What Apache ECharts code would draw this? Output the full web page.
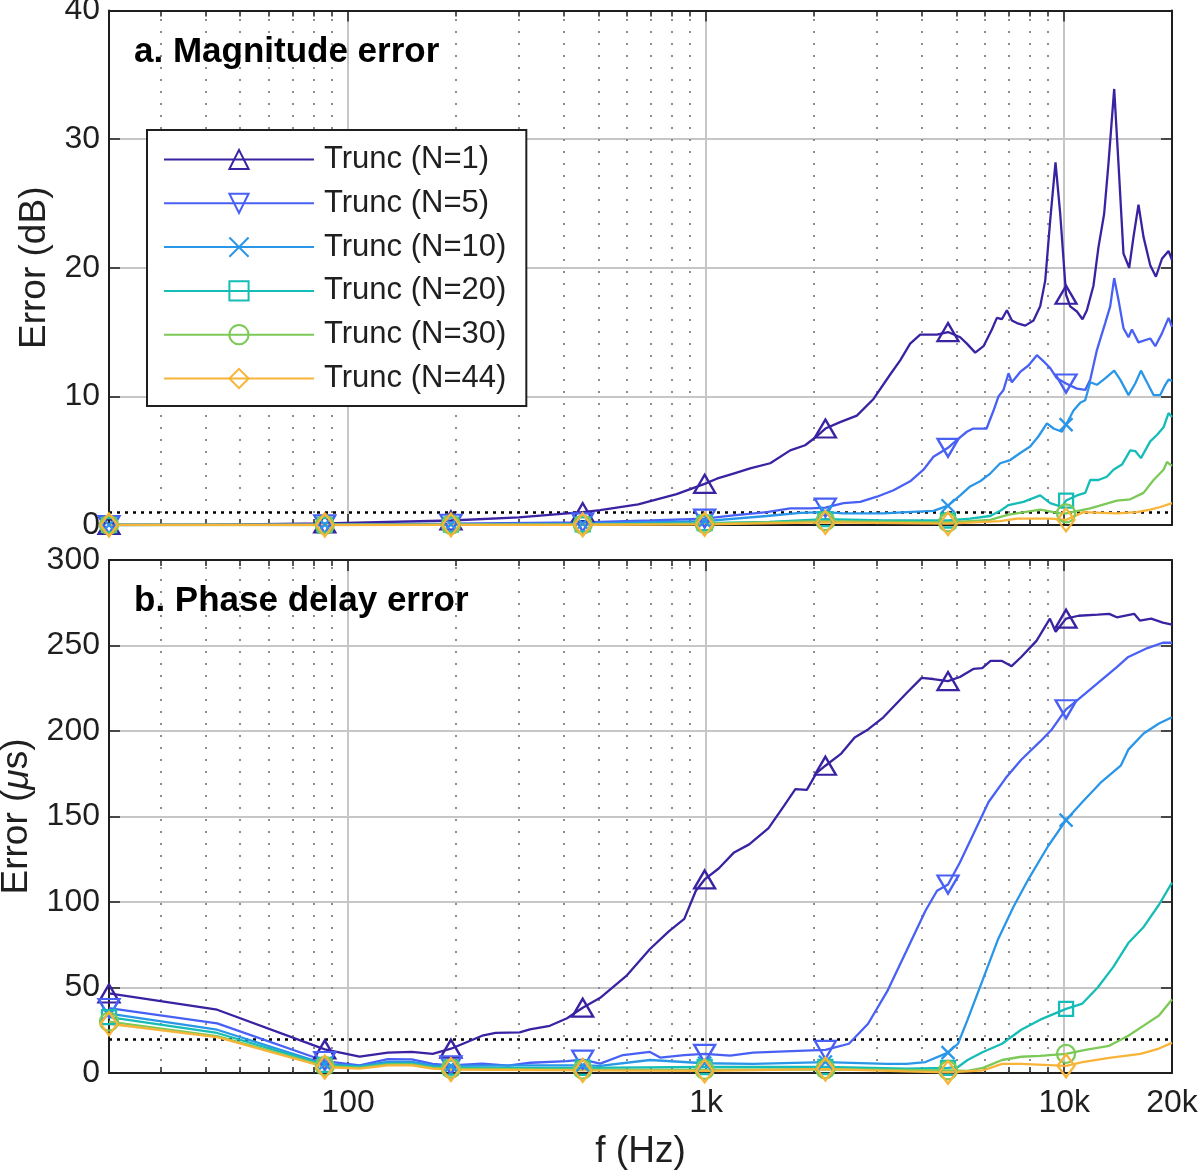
<!DOCTYPE html>
<html>
<head>
<meta charset="utf-8">
<title>Truncation error</title>
<script src="https://cdn.jsdelivr.net/npm/echarts@6/dist/echarts.min.js"></script>
<style>
html, body { margin: 0; padding: 0; background: #fff; }
#chart { width: 1200px; height: 1172px; }
</style>
</head>
<body>
<div id="chart"></div>
<script>
// ---- data ----
const seriesNames = ['Trunc (N=1)', 'Trunc (N=5)', 'Trunc (N=10)', 'Trunc (N=20)', 'Trunc (N=30)', 'Trunc (N=44)'];
const seriesColors = ['#3a22a2', '#4860f4', '#2a96e8', '#16bcb6', '#7cc957', '#f8b438'];

const freqMin = 21.5;
const freqMax = 20000;
const freqTicks = [100, 1000, 10000, 20000];
const freqTickLabels = ['100', '1k', '10k', '20k'];
const minorFreqs = [30, 40, 50, 60, 70, 80, 90, 200, 300, 400, 500, 600, 700, 800, 900,
  2000, 3000, 4000, 5000, 6000, 7000, 8000, 9000];
const markerFreqs = [21.5, 86.1, 193.8, 452.2, 990.5, 2153, 4737, 10120];

const magTicks = [0, 10, 20, 30, 40];
const phaseTicks = [0, 50, 100, 150, 200, 250, 300];
const magLimit = 1;
const phaseLimit = 20;

// a. magnitude error (dB), [f, value]
const magN1 = [[21.5,0],[43.1,0.03],[86.1,0.12],[193.8,0.35],[300,0.6],[452.2,1.0],[506,1.15],[646,1.6],[827,2.4],
  [990.5,3.2],[1071,3.6],[1192,4.0],[1327,4.4],[1510,4.8],[1717,5.8],[1890,6.2],[2038,6.9],[2153,7.5],[2367,8.0],
  [2636,8.5],[2934,9.8],[3266,11.7],[3483,12.8],[3714,14.1],[3961,14.8],[4410,14.8],[4737,15.0],[5123,14.6],
  [5348,14.1],[5642,13.4],[5952,13.9],[6281,15.2],[6486,16.1],[6698,16.0],[6918,16.7],[7143,15.9],[7379,15.7],
  [7782,15.5],[8208,15.9],[8570,17.0],[8851,19.0],[9140,23.7],[9456,28.2],[9746,24.2],[10120,17.9],[10394,17.0],
  [10851,16.6],[11249,16.0],[11571,16.7],[12069,18.6],[12465,21.6],[12929,24.2],[13292,28.1],[13791,33.9],
  [14177,28.1],[14639,21.1],[15188,20.0],[15614,22.4],[16123,24.9],[16651,22.4],[17387,20.2],[18036,19.3],
  [18748,20.7],[19561,21.3],[20000,20.6]];
const magN5 = [[21.5,0],[86.1,0.05],[193.8,0.1],[452.2,0.2],[700,0.35],[990.5,0.5],[1192,0.75],[1477,1.0],
  [1717,1.3],[1952,1.3],[2153,1.35],[2418,1.7],[2693,1.8],[2999,2.2],[3337,2.7],[3714,3.4],[4046,4.3],[4314,5.3],
  [4737,6.0],[5010,6.6],[5348,7.25],[5570,7.5],[6071,7.5],[6348,8.9],[6555,10.0],[6769,10.5],[6990,11.8],
  [7143,11.1],[7536,11.9],[7948,12.4],[8388,13.2],[8851,12.6],[9140,12.2],[9541,11.4],[10120,11.0],[10851,10.6],
  [11448,10.5],[11820,11.3],[12341,13.6],[13014,15.7],[13441,17.0],[13791,19.2],[14177,17.5],[14639,15.3],
  [15120,14.6],[15455,15.2],[16123,14.2],[17387,14.5],[17960,13.9],[18748,14.9],[19561,16.1],[20000,15.4]];
const magN10 = [[21.5,0],[86.1,0.03],[193.8,0.05],[452.2,0.1],[990.5,0.3],[1477,0.7],[1830,0.95],[2153,1.0],
  [2418,0.9],[3129,0.9],[3636,1.0],[4314,1.1],[4737,1.5],[5123,2.3],[5462,3.0],[5825,3.4],[6214,4.0],[6627,4.8],
  [7067,5.05],[7536,5.6],[8035,6.1],[8478,6.9],[8948,7.9],[9336,7.5],[9854,7.25],[10120,7.8],[10617,8.9],
  [11085,9.5],[11448,9.7],[11820,11.1],[12341,10.9],[13014,11.4],[13791,12.0],[14335,11.3],[15120,10.1],
  [15788,11.0],[16381,12.0],[17021,11.1],[17763,10.1],[18547,10.1],[19152,10.9],[19561,11.3],[20000,11.2]];
const magN20 = [[21.5,0],[86.1,0],[193.8,0.03],[452.2,0.05],[990.5,0.15],[1500,0.25],[2153,0.45],[3129,0.35],
  [4737,0.35],[5462,0.5],[6214,0.7],[6627,1.1],[6990,1.55],[7696,1.8],[8570,2.3],[9140,1.7],[9854,1.4],
  [10120,1.9],[10851,2.3],[11448,2.5],[11820,3.5],[12465,3.5],[13159,3.75],[13728,4.3],[14496,4.7],[15290,5.8],
  [15788,5.75],[16381,5.2],[17387,6.5],[18153,7.0],[18942,7.6],[19561,8.7],[20000,8.4]];
const magN30 = [[21.5,0],[86.1,0],[193.8,0.02],[452.2,0.03],[990.5,0.1],[2153,0.3],[4737,0.2],[6214,0.4],
  [6990,0.8],[8570,1.2],[9746,0.9],[10120,0.9],[11820,1.3],[14036,1.9],[15290,2.0],[16651,2.5],[17763,3.5],
  [18942,4.3],[19365,4.9],[20000,4.6]];
const magN44 = [[21.5,0],[86.1,0],[193.8,0.01],[452.2,0.02],[990.5,0.05],[2153,0.2],[4737,0.1],[6627,0.3],
  [7379,0.5],[9140,0.5],[10120,0.4],[11324,1.0],[14036,0.9],[15962,1.0],[17387,1.2],[18547,1.4],[20000,1.7]];

// b. phase delay error (us), [f, value]
const phaseN1 = [[21.5,46.5],[43.1,37],[86.1,13.8],[107.7,9.6],[129.2,11.9],[150.7,12.4],[172.3,11.2],[193.8,14.2],
  [236.9,21.8],[258.4,23.5],[301.5,23.8],[322,25.5],[366,27.6],[409,32],[452.2,38.2],[506,44],[601,57.1],[697,72.5],
  [788,83],[869,90.1],[936,106.6],[990.5,113.2],[1084,119.6],[1197,129],[1319,133.7],[1494,143.2],[1648,156.1],
  [1775,166],[1911,165.6],[2032,175.4],[2153,179.7],[2384,186.8],[2599,196.2],[2833,200.9],[3126,208],[3625,222.1],
  [3999,231.1],[4307,230.4],[4737,229.2],[5113,231.6],[5573,236.3],[5902,236.8],[6229,241],[6704,241],[7130,237.9],
  [7585,243.3],[8366,252.7],[9122,265.7],[9462,258],[10120,265.7],[10970,267.4],[12405,268],[13355,268.5],
  [14026,266.5],[15677,268.5],[16262,264.6],[17500,265.7],[18850,263.4],[20000,262.2]];
const phaseN5 = [[21.5,38],[43.1,29],[86.1,7],[107.7,4.4],[129.2,8.1],[150.7,8.0],[172.3,5.3],[193.8,4.5],
  [236.9,5.5],[279.9,4.3],[323,6],[409,7],[452.2,7.8],[506,5.5],[586,10.5],[697,12.3],[744,9.0],[869,10.5],
  [990.5,11.2],[1167,10.2],[1353,11.9],[1732,12.8],[2153,13.5],[2505,17.1],[2833,28.8],[3203,47.7],[3625,71.3],
  [4098,94.9],[4414,106.6],[4737,110.2],[5113,123.1],[5573,139.6],[6149,158.5],[6874,172.6],[7585,183.2],
  [8570,193.9],[9235,200.9],[10120,212.7],[10970,218.6],[12405,228],[14026,237.4],[15101,243.3],[17080,248.5],
  [18850,251.6],[20000,251.6]];
const phaseN10 = [[21.5,34.7],[43.1,25.3],[86.1,5.3],[107.7,4],[129.2,6.5],[150.7,6.5],[172.3,4.5],[193.8,4.2],
  [301.5,4.5],[452.2,4.5],[506,4.2],[697,7.6],[990.5,5.7],[1353,5.3],[2153,6.4],[3203,5.3],[3625,5.3],[4098,6.4],
  [4737,11.9],[5051,17.1],[5373,31.2],[5929,54.8],[6541,78.4],[7217,97.2],[7963,113.7],[9010,132.6],[10120,147.9],
  [11241,158.5],[12713,170.3],[14382,179.7],[15101,189.1],[16668,198.5],[18390,204.4],[20000,208]];
const phaseN20 = [[21.5,32.7],[43.1,23.4],[86.1,4.8],[107.7,3.5],[129.2,5.5],[150.7,5.5],[172.3,3.5],[193.8,3.2],
  [301.5,3],[452.2,3],[990.5,3.5],[2153,3.5],[3625,2.5],[4737,3],[5051,3.5],[5373,7.6],[5929,12.3],[6704,17.1],
  [7585,25.3],[8570,31.2],[10120,37.5],[11241,40.6],[12405,50],[13685,61.8],[15101,76],[16668,85.4],[18390,98.4],
  [20000,111.3]];
const phaseN30 = [[21.5,30],[43.1,21.6],[86.1,4],[107.7,3],[129.2,5],[150.7,5],[172.3,3],[193.8,2.5],[452.2,2],
  [990.5,1.8],[2153,2.2],[4737,1.5],[5373,1.2],[5929,3],[6704,7.6],[7585,9.5],[8570,10],[10120,11.2],[11463,13.5],
  [13355,15.9],[15101,21.8],[16668,27.7],[18390,33.6],[20000,43]];
const phaseN44 = [[21.5,28.8],[43.1,21],[86.1,3.5],[107.7,2.5],[129.2,4.5],[150.7,4.5],[172.3,2.5],[193.8,2],
  [452.2,1.5],[990.5,1.2],[2153,2.3],[3625,1],[4737,0.4],[5929,1.5],[6704,5.3],[7585,5.3],[10120,4.2],[11241,6.4],
  [13355,8.8],[16333,11.2],[18390,14.3],[20000,17.6]];

const magData = [magN1, magN5, magN10, magN20, magN30, magN44];
const phaseData = [phaseN1, phaseN5, phaseN10, phaseN20, phaseN30, phaseN44];

// ---- styling ----
const font = '"Liberation Sans", Arial, Helvetica, sans-serif';
const ink = '#1f1f1f';
const markerShapes = ['triangle', 'path://M0,0L10,0L5,8.6Z', 'path://M0,0L10,10M10,0L0,10', 'rect', 'circle', 'diamond'];
const markerSizes = [[21, 18], [21, 18], [13, 13], [14, 14], [18, 18], [17, 23]];
const markerSet = new Set(markerFreqs);

const gridTops = [10.5, 560];
const gridHeights = [514.5, 513];
const minorTickPx = 6;

const chart = echarts.init(document.getElementById('chart'), null, { renderer: 'canvas' });

function freqLabel(v) {
  for (let i = 0; i < freqTicks.length; i++) {
    if (Math.abs(v - freqTicks[i]) / freqTicks[i] < 1e-4) return freqTickLabels[i];
  }
  return '';
}

function xAxis(gridIndex, position, withLabels) {
  const ax = {
    type: 'log', logBase: 10, gridIndex: gridIndex, position: position,
    min: freqMin, max: freqMax,
    axisLine: { show: true, onZero: false, lineStyle: { color: ink, width: 2 } },
    axisTick: { show: true, inside: true, length: 11, lineStyle: { color: ink, width: 1.5 } },
    axisLabel: { show: withLabels, formatter: freqLabel, fontSize: 32, color: ink, fontFamily: font,
      margin: 14, showMinLabel: true, showMaxLabel: true, hideOverlap: false },
    splitLine: { show: position === 'bottom', showMinLine: false, showMaxLine: false,
      lineStyle: { color: '#c6c6c6', width: 2 } },
    minorTick: { show: false }, minorSplitLine: { show: false }
  };
  if (withLabels) {
    ax.name = 'f (Hz)';
    ax.nameLocation = 'middle';
    ax.nameGap = 60;
    ax.nameTextStyle = { fontSize: 37, color: ink, fontFamily: font };
  }
  return ax;
}

function yAxis(gridIndex, position, ticks, name) {
  const ax = {
    type: 'value', gridIndex: gridIndex, position: position,
    min: ticks[0], max: ticks[ticks.length - 1], interval: ticks[1] - ticks[0],
    axisLine: { show: true, onZero: false, lineStyle: { color: ink, width: 2 } },
    axisTick: { show: true, inside: true, length: 11, lineStyle: { color: ink, width: 1.5 } },
    axisLabel: { show: position === 'left', fontSize: 32, color: ink, fontFamily: font, margin: 9 },
    splitLine: { show: position === 'left', showMinLine: false, showMaxLine: false,
      lineStyle: { color: '#c6c6c6', width: 2 } }
  };
  if (name) {
    ax.name = name;
    ax.nameLocation = 'middle';
    ax.nameGap = 55;
    ax.nameTextStyle = { fontSize: 37, color: ink, fontFamily: font,
      rich: { i: { fontSize: 37, fontStyle: 'italic', color: ink, fontFamily: font } } };
  }
  return ax;
}

// dotted minor grid, minor ticks and the threshold line for one panel
function decorations(gridIndex, ticks, limit) {
  const yMax = ticks[ticks.length - 1];
  const tickLen = minorTickPx / gridHeights[gridIndex] * yMax;
  const data = [];
  minorFreqs.forEach(function (f) {
    data.push({ xAxis: f, lineStyle: { color: '#8c8c8c', width: 2, type: [2, 10] } });
  });
  minorFreqs.forEach(function (f) {
    data.push([{ coord: [f, 0] }, { coord: [f, tickLen] }]);
    data.push([{ coord: [f, yMax] }, { coord: [f, yMax - tickLen] }]);
  });
  data.push({ yAxis: limit, lineStyle: { color: '#000', width: 2.5, type: [3, 5] } });
  return {
    type: 'line', name: 'deco' + gridIndex, xAxisIndex: gridIndex, yAxisIndex: gridIndex,
    data: [], silent: true,
    markLine: {
      silent: true, z: 1, symbol: ['none', 'none'], label: { show: false },
      lineStyle: { color: ink, width: 1.5, type: 'solid' },
      emphasis: { disabled: true },
      data: data
    }
  };
}

function curve(i, data, gridIndex) {
  const c = seriesColors[i];
  return {
    type: 'line', name: seriesNames[i], xAxisIndex: gridIndex, yAxisIndex: gridIndex,
    data: data, color: c,
    symbol: markerShapes[i],
    symbolSize: function (v) { return markerSet.has(v[0]) ? markerSizes[i] : 0; },
    showSymbol: true, showAllSymbol: true,
    lineStyle: { color: c, width: 2.3 },
    itemStyle: { color: 'rgba(255,255,255,0)', borderColor: c, borderWidth: 2.3 },
    emphasis: { disabled: true },
    z: 3
  };
}

const series = [decorations(0, magTicks, magLimit), decorations(1, phaseTicks, phaseLimit)];
magData.forEach(function (d, i) { series.push(curve(i, d, 0)); });
phaseData.forEach(function (d, i) { series.push(curve(i, d, 1)); });

const option = {
  animation: false,
  backgroundColor: '#fff',
  grid: [
    { left: 109, right: 28, top: gridTops[0], height: gridHeights[0], containLabel: false, outerBoundsMode: 'none' },
    { left: 109, right: 28, top: gridTops[1], height: gridHeights[1], containLabel: false, outerBoundsMode: 'none' }
  ],
  xAxis: [xAxis(0, 'bottom', false), xAxis(1, 'bottom', true), xAxis(0, 'top', false), xAxis(1, 'top', false)],
  yAxis: [
    yAxis(0, 'left', magTicks, 'Error (dB)'),
    yAxis(1, 'left', phaseTicks, 'Error ({i|\u03bc}s)'),
    yAxis(0, 'right', magTicks),
    yAxis(1, 'right', phaseTicks)
  ],
  legend: {
    data: seriesNames, orient: 'vertical', left: 147, top: 130,
    itemWidth: 150, itemHeight: 24, itemGap: 12.8,
    padding: [14, 20, 12, 16],
    backgroundColor: '#fff', borderColor: ink, borderWidth: 2,
    selectedMode: false,
    textStyle: { fontSize: 31, color: ink, fontFamily: font, lineHeight: 30, padding: [0, 0, 0, 5] }
  },
  graphic: [
    { type: 'text', left: 134, top: 35, z: 10,
      style: { text: 'a. Magnitude error', font: 'bold 35px ' + font, fill: '#000' } },
    { type: 'text', left: 134, top: 584, z: 10,
      style: { text: 'b. Phase delay error', font: 'bold 35px ' + font, fill: '#000' } }
  ],
  series: series
};

chart.setOption(option);
</script>
</body>
</html>
